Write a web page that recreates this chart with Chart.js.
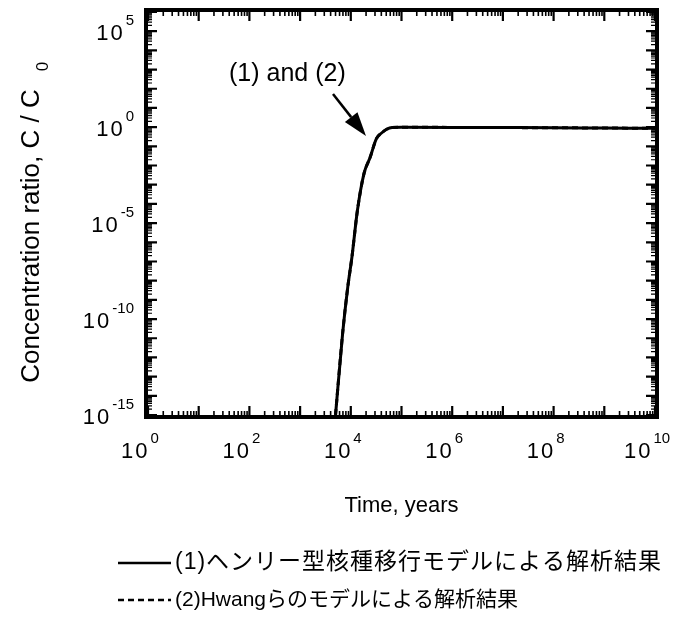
<!DOCTYPE html>
<html>
<head>
<meta charset="utf-8">
<script src="https://cdn.jsdelivr.net/npm/chart.js@4/dist/chart.umd.min.js"></script>
<style>
  html, body { margin: 0; padding: 0; background: #fff; }
  canvas { display: block; }
</style>
</head>
<body>
<canvas id="c" width="688" height="623"></canvas>
<script>
// Breakthrough concentration ratio vs. time (log-log)
const timeYears  = [5000, 6900, 8700, 10500, 13500, 18200, 24000, 32000, 41000, 52000, 65000, 1e5, 1e6, 1e7, 1e8, 1e9, 1e10];
const ratioHenry = [1e-15, 1.8e-11, 4.5e-9, 1.6e-7, 4.5e-5, 3.8e-3, 2.6e-2, 0.25, 0.51, 0.8, 0.95, 0.98, 0.97, 0.95, 0.93, 0.9, 0.87];
const ratioHwang = [1e-15, 1.8e-11, 4.5e-9, 1.6e-7, 4.5e-5, 3.8e-3, 2.6e-2, 0.25, 0.51, 0.8, 0.95, 0.98, 0.97, 0.95, 0.93, 0.9, 0.87];

const xTickExponents = [0, 2, 4, 6, 8, 10];
const yTickExponents = [5, 0, -5, -10, -15];
const seriesLabels = ['(1)ヘンリー型核種移行モデルによる解析結果', '(2)Hwangらのモデルによる解析結果'];
const xTitle = 'Time, years';
const yTitle = 'Concentration ratio, C / C';
const yTitleSub = '0';
const annotationText = '(1) and (2)';

const LATIN = "'Liberation Sans', Arial, Helvetica, sans-serif";
const MIXED = "'Liberation Sans', 'Noto Sans CJK JP', sans-serif";

function toPoints(xs, ys) { return xs.map((x, i) => ({ x: x, y: ys[i] })); }

// "10" with a raised exponent
function drawPower(ctx, exp, cx, cy, align) {
  ctx.save();
  ctx.fillStyle = '#000';
  ctx.textBaseline = 'middle';
  ctx.textAlign = 'left';
  ctx.letterSpacing = '2px';
  ctx.font = '22px ' + LATIN;
  const base = '10';
  const bw = ctx.measureText(base).width;
  ctx.letterSpacing = '0px';
  ctx.font = '15px ' + LATIN;
  const sup = String(exp);
  const sw = ctx.measureText(sup).width;
  const total = bw + 1 + sw;
  const left = align === 'right' ? cx - total : cx - total / 2;
  ctx.letterSpacing = '2px';
  ctx.font = '22px ' + LATIN;
  ctx.fillText(base, left, cy);
  ctx.letterSpacing = '0px';
  ctx.font = '15px ' + LATIN;
  ctx.fillText(sup, left + bw + 1, cy - 13);
  ctx.restore();
}

const framePlugin = {
  id: 'frame',
  afterDatasetsDraw(chart) {
    const ctx = chart.ctx;
    const a = chart.chartArea;
    const xs = chart.scales.x, ys = chart.scales.y;
    ctx.save();
    ctx.strokeStyle = '#000';
    ctx.fillStyle = '#000';

    // frame
    ctx.lineWidth = 4;
    ctx.strokeRect(a.left - 2, a.top - 2, a.right - a.left + 4, a.bottom - a.top + 4);

    // x ticks (inside, bottom and top)
    for (let k = 0; k <= 10; k++) {
      for (let m = 1; m <= 9; m++) {
        if (k === 10 && m > 1) break;
        const px = xs.getPixelForValue(m * Math.pow(10, k));
        const len = m === 1 ? 9 : 4;
        ctx.lineWidth = m === 1 ? 2.2 : 1.6;
        ctx.beginPath();
        ctx.moveTo(px, a.bottom); ctx.lineTo(px, a.bottom - len);
        ctx.moveTo(px, a.top); ctx.lineTo(px, a.top + len);
        ctx.stroke();
      }
    }
    // y ticks (inside, left and right)
    for (let k = -15; k <= 6; k++) {
      for (let m = 1; m <= 9; m++) {
        if (k === 6 && m > 1) break;
        const py = ys.getPixelForValue(m * Math.pow(10, k));
        const len = m === 1 ? 9 : 4;
        ctx.lineWidth = m === 1 ? 2.2 : 1.2;
        ctx.beginPath();
        ctx.moveTo(a.left, py); ctx.lineTo(a.left + len, py);
        ctx.moveTo(a.right, py); ctx.lineTo(a.right - len, py);
        ctx.stroke();
      }
    }

    // tick labels
    xTickExponents.forEach(e => {
      const px = xs.getPixelForValue(Math.pow(10, e));
      drawPower(ctx, e, px - 8, 452, 'center');
    });
    yTickExponents.forEach(e => {
      const py = ys.getPixelForValue(Math.pow(10, e));
      drawPower(ctx, e, 134, py + 3, 'right');
    });

    // axis titles
    ctx.textAlign = 'center';
    ctx.textBaseline = 'middle';
    ctx.font = '22px ' + LATIN;
    ctx.fillText(xTitle, (a.left + a.right) / 2, 506);

    ctx.save();
    ctx.translate(32, 236);
    ctx.rotate(-Math.PI / 2);
    ctx.font = '26px ' + LATIN;
    const tw = ctx.measureText(yTitle).width;
    ctx.fillText(yTitle, 0, 0);
    ctx.font = '17px ' + LATIN;
    ctx.textAlign = 'left';
    ctx.fillText(yTitleSub, tw / 2 + 18, 11);
    ctx.restore();

    // annotation with arrow
    ctx.font = '25px ' + LATIN;
    ctx.textAlign = 'left';
    ctx.fillText(annotationText, 229, 74);
    const x0 = 333, y0 = 94, x1 = 366, y1 = 136;
    const ang = Math.atan2(y1 - y0, x1 - x0);
    const hl = 24, hw = 8;
    const bx = x1 - hl * Math.cos(ang), by = y1 - hl * Math.sin(ang);
    ctx.lineWidth = 2.5;
    ctx.beginPath(); ctx.moveTo(x0, y0); ctx.lineTo(bx, by); ctx.stroke();
    ctx.beginPath();
    ctx.moveTo(x1, y1);
    ctx.lineTo(bx + hw * Math.sin(ang), by - hw * Math.cos(ang));
    ctx.lineTo(bx - hw * Math.sin(ang), by + hw * Math.cos(ang));
    ctx.closePath(); ctx.fill();

    // legend
    ctx.textBaseline = 'middle';
    ctx.lineWidth = 2.5;
    ctx.beginPath(); ctx.moveTo(118, 563); ctx.lineTo(171, 563); ctx.stroke();
    ctx.font = '23px ' + MIXED;
    ctx.letterSpacing = '1px';
    ctx.fillText(seriesLabels[0], 175, 563);
    ctx.setLineDash([6, 4]);
    ctx.beginPath(); ctx.moveTo(118, 600); ctx.lineTo(171, 600); ctx.stroke();
    ctx.setLineDash([]);
    ctx.font = '21px ' + MIXED;
    ctx.letterSpacing = '0px';
    ctx.fillText(seriesLabels[1], 175, 600);

    ctx.restore();
  }
};

new Chart(document.getElementById('c'), {
  type: 'line',
  data: {
    datasets: [
      { label: seriesLabels[0], data: toPoints(timeYears, ratioHenry),
        borderColor: '#000', borderWidth: 3, pointRadius: 0, cubicInterpolationMode: 'monotone', fill: false },
      { label: seriesLabels[1], data: toPoints(timeYears, ratioHwang),
        borderColor: '#000', borderWidth: 3, borderDash: [6, 4], pointRadius: 0, cubicInterpolationMode: 'monotone', fill: false }
    ]
  },
  options: {
    responsive: false,
    animation: false,
    events: [],
    layout: { padding: { left: 148, right: 33, top: 12, bottom: 208 } },
    plugins: { legend: { display: false }, tooltip: { enabled: false } },
    scales: {
      x: { type: 'logarithmic', min: 1, max: 1e10, display: false },
      y: { type: 'logarithmic', min: 1e-15, max: 1e6, display: false }
    }
  },
  plugins: [framePlugin]
});
</script>
</body>
</html>
